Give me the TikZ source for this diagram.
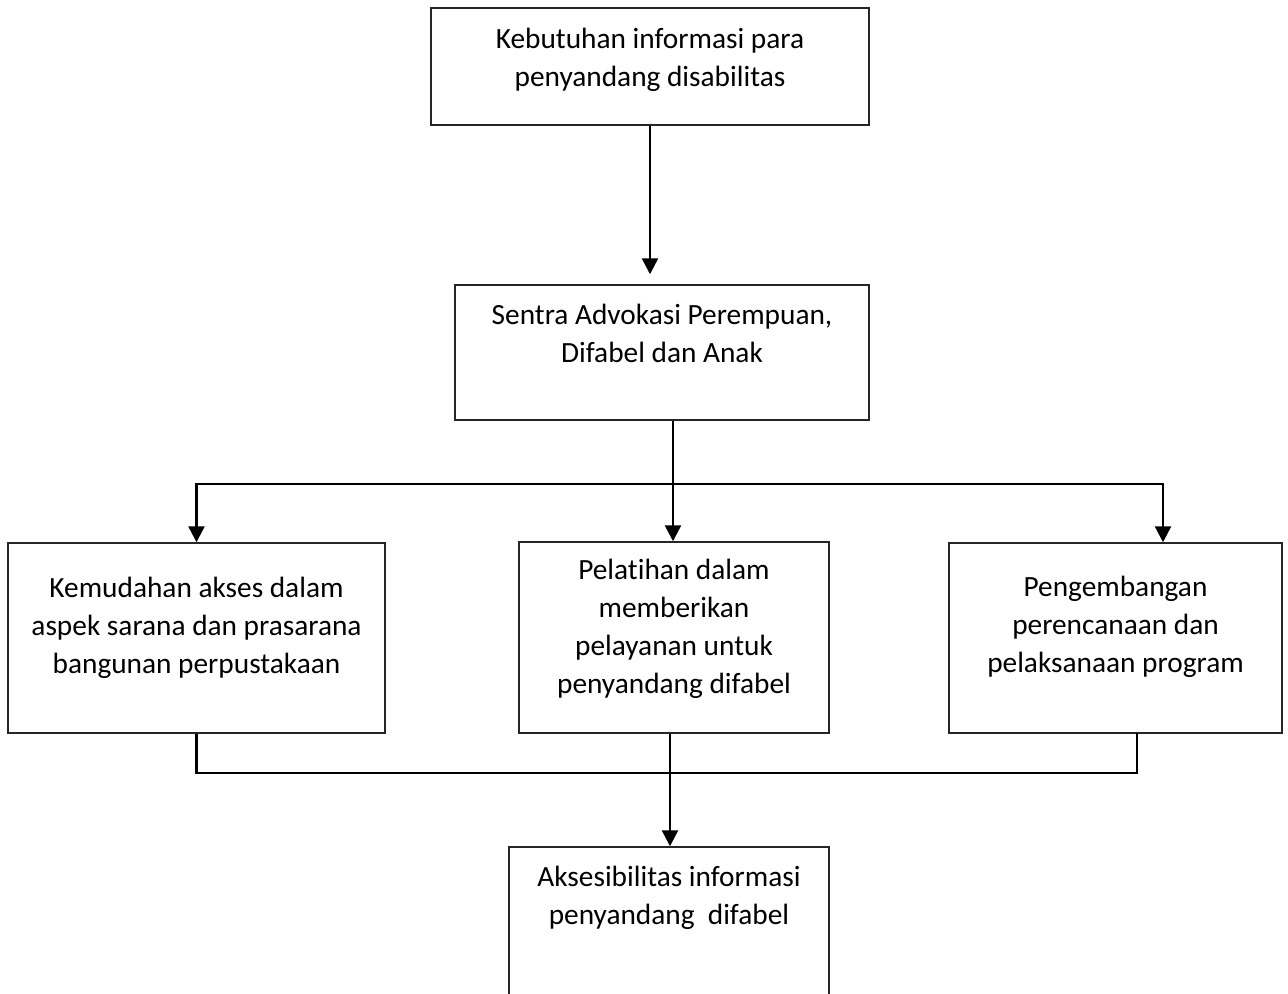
\documentclass[tikz,border=0pt]{standalone}
\usepackage{fontspec}
\setmainfont{Carlito}[Ligatures=NoCommon]
\usetikzlibrary{arrows.meta,positioning}
\tikzset{
  box/.style={
    draw=black!85,
    line width=1.1pt,
    inner sep=0pt
  },
  boxtext/.style={
    align=center,
    font=\fontsize{22}{28.5}\selectfont,
    inner sep=0pt
  },
  link/.style={
    line width=1.8pt,
    draw=black
  },
  arrow/.style={
    link,
    -{Triangle[width=12pt,length=12pt]}
  }
}

\begin{document}
\begin{tikzpicture}[x=0.75pt,y=-0.75pt]
  \useasboundingbox (0,0) rectangle (1288,993);
  \clip (0,0) rectangle (1288,993);
  % boxes
  \node[box, minimum width=438*0.75pt, minimum height=117*0.75pt] (kebutuhan) at (650,66.5) {};
  \node[box, minimum width=414*0.75pt, minimum height=135*0.75pt] (sentra) at (662,352.5) {};
  \node[box, minimum width=377*0.75pt, minimum height=190*0.75pt] (kemudahan) at (196.5,638) {};
  \node[box, minimum width=310*0.75pt, minimum height=191*0.75pt] (pelatihan) at (674,637.5) {};
  \node[box, minimum width=333*0.75pt, minimum height=190*0.75pt] (pengembangan) at (1115.5,638) {};
  \node[box, minimum width=320*0.75pt, minimum height=200*0.75pt] (aksesibilitas) at (669,947) {};
  % texts
  \node[boxtext] at (650,60) {Kebutuhan informasi para\\penyandang disabilitas};
  \node[boxtext] at (662,333) {Sentra Advokasi Perempuan,\\Difabel dan Anak};
  \node[boxtext] at (196.5,628) {Kemudahan akses dalam\\aspek sarana dan prasarana\\bangunan perpustakaan};
  \node[boxtext] at (674,629) {Pelatihan dalam\\memberikan\\pelayanan untuk\\penyandang difabel};
  \node[boxtext] at (1115.5,627) {Pengembangan\\perencanaan dan\\pelaksanaan program};
  \node[boxtext] at (669,898) {Aksesibilitas informasi\\penyandang~~difabel};
  % connectors
  \coordinate (split) at (673,484);
  \coordinate (right) at (1163,484);
  \coordinate (join) at (670,773);
  \coordinate (back) at (1137,733);
  \draw[arrow, shorten >=7.5pt] (kebutuhan.south) -- (kebutuhan.south |- sentra.north);
  \draw[link] (split |- sentra.south) -- (split);
  \draw[arrow] (split) -| (kemudahan.north);
  \draw[arrow] (split) -- (split |- pelatihan.north);
  \draw[arrow] (split) -| (right |- pengembangan.north);
  \draw[link] (kemudahan.south) |- (join) -| (back);
  \draw[arrow] (join |- pelatihan.south) -- (join |- aksesibilitas.north);
\end{tikzpicture}
\end{document}
